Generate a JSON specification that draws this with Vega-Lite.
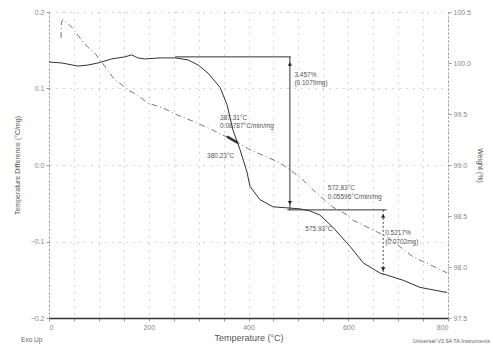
{
  "$schema": "https://vega.github.io/schema/vega-lite/v6.json",
  "autosize": {"type": "none"},
  "width": 399,
  "height": 306,
  "padding": {"left": 49, "top": 12, "right": 45, "bottom": 31},
  "background": "white",
  "view": {"stroke": null},
  "config": {
    "font": "Liberation Sans",
    "axis": {"labelFont": "Liberation Sans", "titleFont": "Liberation Sans", "labelColor": "#888", "titleColor": "#555", "labelFontSize": 7, "titleFontWeight": "normal", "tickColor": "#999", "tickSize": 3}
  },
  "datasets": {
    "weight": [
      {"T": 0, "W": 100.01}, {"T": 26, "W": 100.0}, {"T": 58, "W": 99.97}, {"T": 78, "W": 99.98}, {"T": 98, "W": 100.0},
      {"T": 126, "W": 100.04}, {"T": 152, "W": 100.06}, {"T": 166, "W": 100.08}, {"T": 178, "W": 100.05}, {"T": 192, "W": 100.04},
      {"T": 223, "W": 100.05}, {"T": 253, "W": 100.05}, {"T": 279, "W": 100.03}, {"T": 299, "W": 99.98}, {"T": 319, "W": 99.9},
      {"T": 343, "W": 99.76}, {"T": 357, "W": 99.59}, {"T": 369, "W": 99.34}, {"T": 383, "W": 99.15}, {"T": 397, "W": 98.93},
      {"T": 403, "W": 98.79}, {"T": 423, "W": 98.66}, {"T": 449, "W": 98.59}, {"T": 477, "W": 98.58}, {"T": 503, "W": 98.57},
      {"T": 523, "W": 98.55}, {"T": 543, "W": 98.51}, {"T": 569, "W": 98.39}, {"T": 604, "W": 98.2}, {"T": 630, "W": 98.04},
      {"T": 664, "W": 97.94}, {"T": 678, "W": 97.92}, {"T": 710, "W": 97.87}, {"T": 744, "W": 97.8}, {"T": 798, "W": 97.75}
    ],
    "dta": [
      {"T": 24, "D": 0.166}, {"T": 25, "D": 0.187}, {"T": 28, "D": 0.19}, {"T": 46, "D": 0.18}, {"T": 68, "D": 0.161},
      {"T": 78, "D": 0.154}, {"T": 92, "D": 0.146}, {"T": 112, "D": 0.129}, {"T": 132, "D": 0.111}, {"T": 146, "D": 0.105},
      {"T": 158, "D": 0.098}, {"T": 176, "D": 0.092}, {"T": 198, "D": 0.081}, {"T": 227, "D": 0.075}, {"T": 259, "D": 0.065},
      {"T": 293, "D": 0.056}, {"T": 327, "D": 0.046}, {"T": 347, "D": 0.039}, {"T": 357, "D": 0.037}, {"T": 403, "D": 0.02},
      {"T": 463, "D": 0.003}, {"T": 503, "D": -0.016}, {"T": 537, "D": -0.037}, {"T": 569, "D": -0.055}, {"T": 597, "D": -0.065},
      {"T": 609, "D": -0.072}, {"T": 678, "D": -0.094}, {"T": 730, "D": -0.12}, {"T": 798, "D": -0.141}
    ],
    "marker": [{"T": 357, "D": 0.037}, {"T": 379, "D": 0.029}],
    "segs": [
      {"T": 253, "T2": 485, "W": 100.06, "W2": 100.06},
      {"T": 483, "T2": 483, "W": 100.06, "W2": 98.56},
      {"T": 478, "T2": 677, "W": 98.56, "W2": 98.56}
    ],
    "dashseg": [{"T": 670, "T2": 670, "W": 98.56, "W2": 97.92}],
    "up": [{"T": 483, "W": 99.99}, {"T": 670, "W": 98.5}],
    "down": [{"T": 483, "W": 98.63}, {"T": 670, "W": 97.98}],
    "labels": [
      {"T": 492, "W": 99.88, "label": "3.457%"},
      {"T": 492, "W": 99.8, "label": "(0.1079mg)"},
      {"T": 343, "W": 99.46, "label": "387.31°C"},
      {"T": 343, "W": 99.38, "label": "0.08787°C/min/mg"},
      {"T": 317, "W": 99.09, "label": "380.23°C"},
      {"T": 559, "W": 98.77, "label": "572.83°C"},
      {"T": 559, "W": 98.69, "label": "0.05596°C/min/mg"},
      {"T": 514, "W": 98.37, "label": "575.93°C"},
      {"T": 674, "W": 98.33, "label": "0.5217%"},
      {"T": 674, "W": 98.25, "label": "(0.0702mg)"}
    ],
    "footL": [{"T": -56, "W": 97.28, "label": "Exo Up"}],
    "footR": [{"T": 884, "W": 97.275, "label": "Universal V3.9A TA Instruments"}]
  },
  "encoding": {
    "x": {"field": "T", "type": "quantitative", "scale": {"domain": [0, 800], "nice": false, "zero": false},
      "axis": {"title": "Temperature (°C)", "titleFontSize": 9, "titlePadding": 3, "values": [0, 50, 100, 150, 200, 250, 300, 350, 400, 450, 500, 550, 600, 650, 700, 750, 800],
        "labelExpr": "datum.value % 200 == 0 ? datum.label : ''", "format": "d", "grid": true, "gridDash": [1, 6], "gridColor": "#aaa",
        "domainColor": "#333", "domainWidth": 1.5, "labelPadding": 2}}
  },
  "layer": [
    {
      "layer": [
        {"data": {"name": "dta"}, "mark": {"type": "line", "color": "#777", "strokeWidth": 1, "strokeDash": [6, 3, 1, 3]},
          "encoding": {"y": {"field": "D", "type": "quantitative", "scale": {"domain": [-0.2, 0.2], "nice": false, "zero": false},
            "axis": {"orient": "left", "title": "Temperature Difference (°C/mg)", "titleFontSize": 7, "titlePadding": 10,
              "values": [-0.2, -0.15, -0.1, -0.05, 0, 0.05, 0.1, 0.15, 0.2],
              "labelExpr": "abs(round(datum.value*20)) % 2 == 0 ? format(datum.value, '.1f') : ''",
              "grid": true, "gridDash": [1, 6], "gridColor": "#aaa", "domainDash": [2, 2], "domainColor": "#999"}}}},
        {"data": {"name": "marker"}, "mark": {"type": "line", "color": "#333", "strokeWidth": 2.5},
          "encoding": {"y": {"field": "D", "type": "quantitative"}}}
      ]
    },
    {
      "layer": [
        {"data": {"name": "weight"}, "mark": {"type": "line", "color": "#333", "strokeWidth": 1},
          "encoding": {"y": {"field": "W", "type": "quantitative", "scale": {"domain": [97.5, 100.5], "nice": false, "zero": false},
            "axis": {"orient": "right", "title": "Weight (%)", "titleFontSize": 7, "titlePadding": 6,
              "values": [97.5, 98, 98.5, 99, 99.5, 100, 100.5], "format": ".1f", "grid": false,
              "domainDash": [2, 2], "domainColor": "#999"}}}},
        {"data": {"values": [{"a": 1}]}, "mark": {"type": "rule", "color": "#555", "strokeWidth": 2},
          "encoding": {"x": {"datum": 0}, "x2": {"datum": 800}, "y": {"datum": 100.5}}},
        {"data": {"name": "segs"}, "mark": {"type": "rule", "color": "#333", "strokeWidth": 1},
          "encoding": {"x2": {"field": "T2"}, "y": {"field": "W", "type": "quantitative"}, "y2": {"field": "W2"}}},
        {"data": {"name": "dashseg"}, "mark": {"type": "rule", "color": "#444", "strokeWidth": 1, "strokeDash": [2, 2]},
          "encoding": {"x2": {"field": "T2"}, "y": {"field": "W", "type": "quantitative"}, "y2": {"field": "W2"}}},
        {"data": {"name": "up"}, "mark": {"type": "point", "shape": "triangle-up", "filled": true, "color": "#222", "size": 18, "opacity": 1},
          "encoding": {"y": {"field": "W", "type": "quantitative"}}},
        {"data": {"name": "down"}, "mark": {"type": "point", "shape": "triangle-down", "filled": true, "color": "#222", "size": 18, "opacity": 1},
          "encoding": {"y": {"field": "W", "type": "quantitative"}}},
        {"data": {"name": "labels"}, "mark": {"type": "text", "align": "left", "baseline": "middle", "fontSize": 6.5, "color": "#555"},
          "encoding": {"y": {"field": "W", "type": "quantitative"}, "text": {"field": "label"}}},
        {"data": {"name": "footL"}, "mark": {"type": "text", "align": "left", "baseline": "middle", "fontSize": 6.5, "color": "#666"},
          "encoding": {"y": {"field": "W", "type": "quantitative"}, "text": {"field": "label"}}},
        {"data": {"name": "footR"}, "mark": {"type": "text", "align": "right", "baseline": "middle", "fontSize": 5.5, "color": "#666"},
          "encoding": {"y": {"field": "W", "type": "quantitative"}, "text": {"field": "label"}}}
      ]
    }
  ],
  "resolve": {"scale": {"y": "independent"}}
}
